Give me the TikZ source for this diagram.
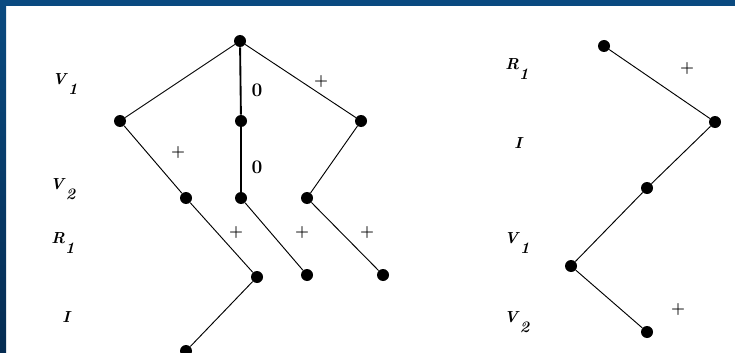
\documentclass[tikz,border=0pt]{standalone}
\usepackage{amsmath}
\usepackage{xcolor}
\usetikzlibrary{positioning}
\definecolor{frameblue}{RGB}{10,74,128}
\definecolor{framedark}{RGB}{5,44,82}
\newcommand{\lvlsym}[2]{\textbf{\textit{#1}}\raisebox{-1.5ex}{\textbf{\textit{#2}}}}

\begin{document}
\begin{tikzpicture}[x=0.75pt, y=-0.75pt,
  dot/.style={circle, fill=black, inner sep=0pt, minimum size=9pt},
  lvl/.style={font=\large},
  sgn/.style={font=\large\bfseries},
  nil/.style={font=\Large\bfseries},
  link/.style={line width=0.7pt},
  stem/.style={line width=1.4pt}]
% Frame
\useasboundingbox (0,0) rectangle (735,353);
\clip (0,0) rectangle (735,353);
\fill[white] (0,0) rectangle (735,353);
\shade[top color=frameblue, bottom color=framedark] (0,0) rectangle (6,353);
\fill[frameblue] (0,0) rectangle (735,6);

% Left tree: levels
\node[lvl] (v1lab) at (65,84) {\lvlsym{V}{1}};
\node[lvl] (v2lab) at (63,189) {\lvlsym{V}{2}};
\node[lvl] (r1lab) at (63,243) {\lvlsym{R}{1}};
\node[lvl] (ilab) at (67,322) {\lvlsym{I}{}};

% Left tree: nodes
\node[dot] (t) at (240,41) {};
\node[dot] (l1) at (120,121) {};
\node[dot] (m1) at (241,121) {};
\node[dot] (r1) at (361,121) {};
\node[dot] (l2) at (186,198) {};
\node[dot] (m2) at (241,198) {};
\node[dot] (r2) at (307,198) {};
\node[dot] (l3) at (257,277) {};
\node[dot] (m3) at (307,275) {};
\node[dot] (r3) at (383,275) {};
\node[dot] (l4) at (186,351) {};

% Left tree: edges
\draw[link] (t) -- (l1);
\draw[stem] (t) -- (m1);
\draw[link] (t) -- (r1);
\draw[link] (l1) -- (l2);
\draw[stem] (m1) -- (m2);
\draw[link] (r1) -- (r2);
\draw[link] (l2) -- (l3);
\draw[link] (m2) -- (m3);
\draw[link] (r2) -- (r3);
\draw[link] (l3) -- (l4);

% Left tree: signs
\node[nil] (s1) at (257,90) {0};
\node[nil] (s2) at (257,167) {0};
\node[sgn] (s3) at (321,82) {+};
\node[sgn] (s4) at (178,153) {+};
\node[sgn] (s5) at (236,233) {+};
\node[sgn] (s6) at (302,233) {+};
\node[sgn] (s7) at (367,233) {+};

% Right chain: levels
\node[lvl] (r1lab2) at (517,69) {\lvlsym{R}{1}};
\node[lvl] (ilab2) at (519,148) {\lvlsym{I}{}};
\node[lvl] (v1lab2) at (517,243) {\lvlsym{V}{1}};
\node[lvl] (v2lab2) at (517,322) {\lvlsym{V}{2}};

% Right chain: nodes
\node[dot] (p1) at (604,46) {};
\node[dot] (p2) at (715,122) {};
\node[dot] (p3) at (647,188) {};
\node[dot] (p4) at (571,266) {};
\node[dot] (p5) at (647,332) {};

\draw[link] (p1) -- (p2);
\draw[link] (p2) -- (p3);
\draw[link] (p3) -- (p4);
\draw[link] (p4) -- (p5);

\node[sgn] (s8) at (687,69) {+};
\node[sgn] (s9) at (678,310) {+};
\end{tikzpicture}
\end{document}
